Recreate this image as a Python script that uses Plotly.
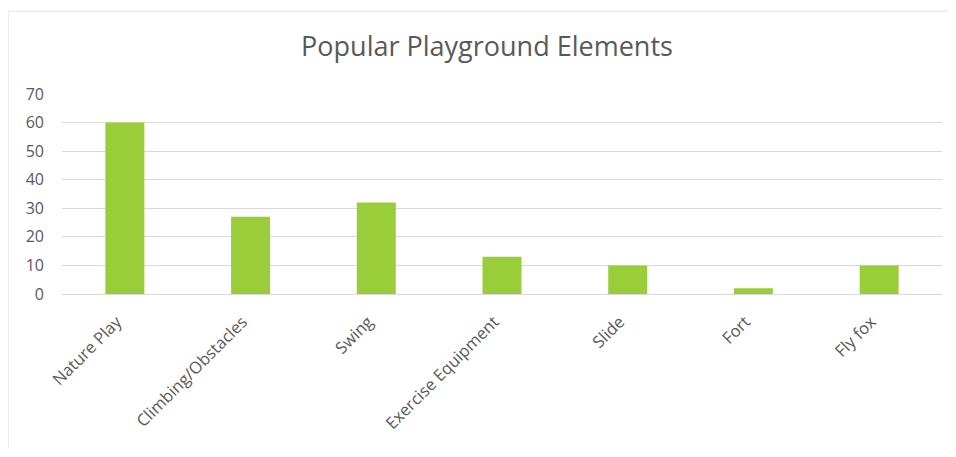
import plotly.graph_objects as go

categories = ["Nature Play", "Climbing/Obstacles", "Swing", "Exercise Equipment", "Slide", "Fort", "Fly fox"]
values = [60, 27, 32, 13, 10, 2, 10]
y_ticks = [0, 10, 20, 30, 40, 50, 60, 70]

# page has an 8px body margin; figure coords = page coords - 8
W, H = 940, 441
L, R, T, B = 54, 6, 86, 154.5
PW = W - L - R
PH = H - T - B

fig = go.Figure(go.Bar(x=categories, y=values, marker=dict(color="#9ACD3A", line=dict(width=0))))

fig.update_layout(
    width=W, height=H,
    margin=dict(l=L, r=R, t=T, b=B, pad=0),
    paper_bgcolor="white", plot_bgcolor="white",
    bargap=0.69,
    showlegend=False,
    title=dict(text="Popular Playground Elements", x=(487 - 8) / W, xref="container", xanchor="center",
               y=1 - (47 - 8) / H, yref="container", yanchor="middle",
               font=dict(family="Open Sans", size=27, color="#595959")),
    font=dict(family="Open Sans", size=16, color="#595959"),
)
fig.update_yaxes(range=[0, 70], tickvals=y_ticks, showgrid=True, gridcolor="#D9D9D9", gridwidth=1,
                 zeroline=True, zerolinecolor="#D9D9D9", zerolinewidth=1,
                 showline=False, ticks="", ticklabelstandoff=17,
                 tickfont=dict(family="Open Sans", size=16, color="#595959"))
fig.update_xaxes(tickangle=-45, showline=False, ticks="", showgrid=False,
                 ticklabelstandoff=14, ticklabelshift=-8,
                 tickfont=dict(family="Open Sans", size=16.5, color="#595959"))

bx = -L / PW
by = 1 + (T - 3) / PH
fig.add_shape(type="line", xref="paper", yref="paper", x0=bx, x1=bx, y0=by, y1=-B / PH,
              line=dict(color="#D9D9D9", width=1))
fig.add_shape(type="line", xref="paper", yref="paper", x0=bx, x1=1 + R / PW, y0=by, y1=by,
              line=dict(color="#E3E3E3", width=1))

fig.write_html("out.html")
